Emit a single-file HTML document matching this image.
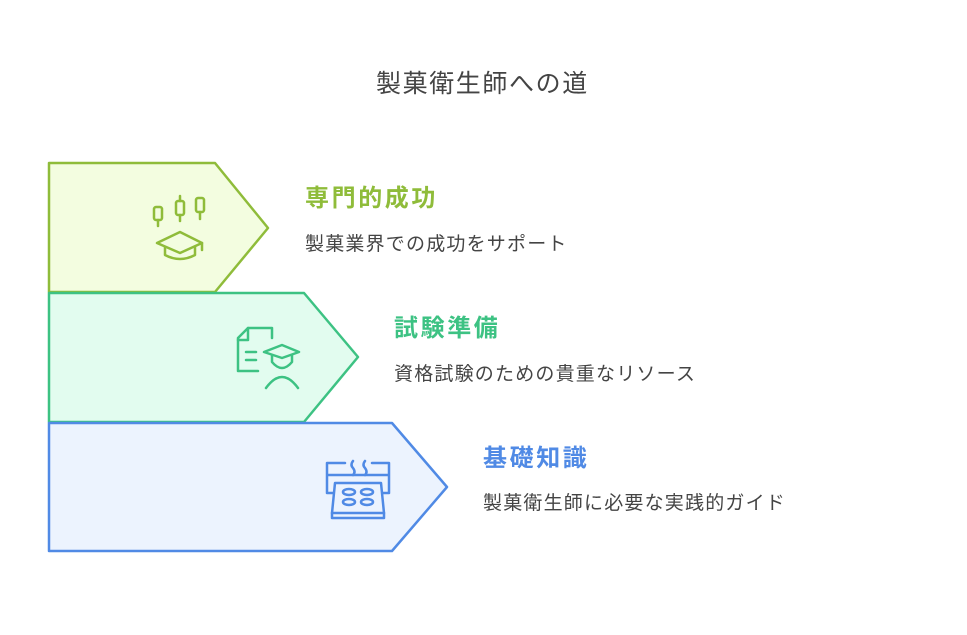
<!DOCTYPE html>
<html><head><meta charset="utf-8"><style>
body{margin:0;width:967px;height:635px;background:#fff;overflow:hidden;position:relative;font-family:"Liberation Sans","Noto Sans CJK JP",sans-serif}
.t{position:absolute;white-space:nowrap}
.h{font-size:24px;font-weight:bold;letter-spacing:2.6px}
.b{font-size:19px;color:#444;letter-spacing:1.2px}
</style></head><body>
<svg width="967" height="635" style="position:absolute;left:0;top:0" fill="none" stroke-width="2.5" stroke-linejoin="round" stroke-linecap="round">
<polygon points="49,163 215,163 268,228 215,292 49,292" fill="#f3fde0" stroke="#8fbc3a"/>
<polygon points="49,293 304,293 358,357 304,422 49,422" fill="#e2fcef" stroke="#3dc283"/>
<polygon points="49,423 392,423 447,487 392,551 49,551" fill="#ecf3fe" stroke="#508ae5"/>
<g stroke="#8fbc3a" stroke-width="2.5">
<rect x="154" y="207" width="8" height="13" rx="2"/><line x1="158" y1="220" x2="158" y2="226"/>
<rect x="176" y="201" width="8" height="14" rx="2"/><line x1="180" y1="196" x2="180" y2="201"/><line x1="180" y1="215" x2="180" y2="221"/>
<rect x="196" y="198" width="8" height="14" rx="2"/><line x1="200" y1="212" x2="200" y2="219"/>
<polygon points="157,243 180,232 202,243 180,253"/>
<path d="M165,247 v8 q15,8 30,0 v-8"/><line x1="202" y1="243" x2="202" y2="250"/>
</g>
<g stroke="#3dc283" stroke-width="2.5">
<path d="M272,338 v-10 h-24 l-10,10 v33 h20"/><path d="M238,340 h10 v-12"/>
<line x1="246" y1="352" x2="256" y2="352"/><line x1="246" y1="360" x2="256" y2="360"/>
<polygon points="264,352 282,345 299,352 282,358"/>
<path d="M272,355 v7 q10,12 20,0 v-7"/>
<path d="M266,388 q16,-22 32,0"/>
</g>
<g stroke="#508ae5" stroke-width="2.5">
<path d="M327,475 v-12 h18 M372,463 h17 v12 M327,475 v18 h6 M389,475 v18 h-6 M327,475 h62"/>
<path d="M353,461 q-3,4 0,7 q3,4 0,7 M365,461 q-3,4 0,7 q3,4 0,7"/>
<path d="M335,483 h46 l3,30 h-52 z"/><path d="M332,513 v5 h52 v-5"/>
<ellipse cx="349" cy="492" rx="6" ry="3"/><ellipse cx="367" cy="492" rx="6" ry="3"/>
<ellipse cx="349" cy="502" rx="6" ry="3"/><ellipse cx="367" cy="502" rx="6" ry="3"/>
</g>
</svg>
<div class="t" style="left:376px;top:64px;font-size:25px;letter-spacing:1.6px;color:#444">製菓衛生師への道</div>
<div class="t h" style="left:305px;top:178px;color:#8fbc3a">専門的成功</div>
<div class="t b" style="left:305px;top:229px">製菓業界での成功をサポート</div>
<div class="t h" style="left:394px;top:308px;color:#3dc283">試験準備</div>
<div class="t b" style="left:394px;top:359px">資格試験のための貴重なリソース</div>
<div class="t h" style="left:483px;top:438px;color:#508ae5">基礎知識</div>
<div class="t b" style="left:483px;top:488px">製菓衛生師に必要な実践的ガイド</div>
</body></html>
